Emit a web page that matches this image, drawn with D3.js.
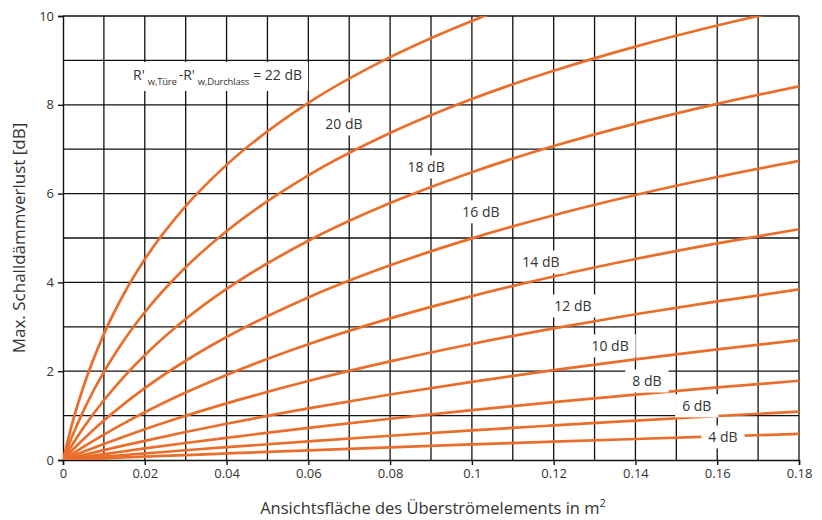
<!DOCTYPE html>
<html><head><meta charset="utf-8">
<script src="https://cdn.jsdelivr.net/npm/d3@7/dist/d3.min.js"></script>
<style>
body{margin:0;background:#fff;}
text{font-family:"Open Sans",sans-serif;fill:#333;}
</style>
</head><body>
<svg id="chart" width="822" height="520"></svg>
<script>
// Area of the transfer element (m²) at which values were read
const areas = [0, 0.0025, 0.005, 0.01, 0.015, 0.02, 0.03, 0.04, 0.06, 0.08, 0.10, 0.12, 0.14, 0.16, 0.18];
// Max. sound insulation loss [dB] per level difference R'w,Türe - R'w,Durchlass
const loss22 = [0, 0.904, 1.649, 2.835, 3.761, 4.520, 5.718, 6.647, 8.041, 9.073, 9.890, 10.563, null, null, null];
const loss20 = [0, 0.589, 1.107, 1.984, 2.709, 3.327, 4.341, 5.153, 6.410, 7.364, 8.129, 8.766, 9.311, 9.785, 10.203];
const loss18 = [0, 0.379, 0.727, 1.345, 1.884, 2.360, 3.174, 3.852, 4.937, 5.787, 6.483, 7.071, 7.577, 8.022, 8.417];
const loss16 = [0, 0.241, 0.468, 0.888, 1.269, 1.618, 2.235, 2.770, 3.661, 4.384, 4.992, 5.513, 5.969, 6.373, 6.736];
const loss14 = [0, 0.151, 0.297, 0.573, 0.831, 1.074, 1.518, 1.916, 2.606, 3.189, 3.692, 4.133, 4.526, 4.878, 5.197];
const loss12 = [0, 0.094, 0.185, 0.362, 0.530, 0.692, 0.995, 1.275, 1.779, 2.220, 2.613, 2.965, 3.283, 3.574, 3.841];
const loss10 = [0, 0.057, 0.113, 0.223, 0.329, 0.432, 0.630, 0.817, 1.162, 1.475, 1.761, 2.023, 2.265, 2.490, 2.699];
const loss8  = [0, 0.034, 0.067, 0.133, 0.197, 0.260, 0.383, 0.500, 0.723, 0.929, 1.123, 1.304, 1.474, 1.634, 1.785];
const loss6  = [0, 0.019, 0.038, 0.075, 0.112, 0.148, 0.219, 0.288, 0.420, 0.546, 0.666, 0.779, 0.888, 0.991, 1.090];
const loss4  = [0, 0.010, 0.019, 0.038, 0.057, 0.076, 0.112, 0.148, 0.218, 0.286, 0.350, 0.413, 0.473, 0.531, 0.587];

const seriesValues = [loss22, loss20, loss18, loss16, loss14, loss12, loss10, loss8, loss6, loss4];
const seriesNames = ["22 dB", "20 dB", "18 dB", "16 dB", "14 dB", "12 dB", "10 dB", "8 dB", "6 dB", "4 dB"];
// label anchors (data units) for the curve labels
const labelAreas = [null, 0.0687, 0.0888, 0.1022, 0.1169, 0.1247, 0.1338, 0.1428, 0.1550, 0.1614];
const labelLoss  = [null, 7.57, 6.60, 5.59, 4.46, 3.47, 2.57, 1.78, 1.22, 0.52];

const xTickValues = [0, 0.02, 0.04, 0.06, 0.08, 0.1, 0.12, 0.14, 0.16, 0.18];
const xTickLabels = ["0", "0.02", "0.04", "0.06", "0.08", "0.1", "0.12", "0.14", "0.16", "0.18"];
const yTickValues = [0, 2, 4, 6, 8, 10];
const xGridValues = d3.range(1, 19).map(i => i / 100);
const yGridValues = d3.range(1, 11);

const svg = d3.select("#chart");
const mLeft = 63, mRight = 799, mTop = 16, mBottom = 460;
const x = d3.scaleLinear().domain([0, 0.18]).range([mLeft, mRight]);
const y = d3.scaleLinear().domain([0, 10]).range([mBottom, mTop]);

svg.append("rect").attr("width", 822).attr("height", 520).attr("fill", "#fff");

// grid
const grid = svg.append("g").attr("stroke", "#111").attr("stroke-width", 1.3);
grid.selectAll("line.v").data(xGridValues).join("line").attr("class", "v")
  .attr("x1", d => x(d)).attr("x2", d => x(d)).attr("y1", mTop).attr("y2", mBottom);
grid.selectAll("line.h").data(yGridValues).join("line").attr("class", "h")
  .attr("y1", d => y(d)).attr("y2", d => y(d)).attr("x1", mLeft).attr("x2", mRight);

// axes
const xAxis = d3.axisBottom(x).tickValues(xTickValues).tickFormat((d, i) => xTickLabels[i]).tickSize(5).tickPadding(4);
const yAxis = d3.axisLeft(y).tickValues(yTickValues).tickFormat(d3.format("d")).tickSize(5).tickPadding(4);
const gx = svg.append("g").attr("transform", `translate(0,${mBottom})`).call(xAxis);
const gy = svg.append("g").attr("transform", `translate(${mLeft},0)`).call(yAxis);
[gx, gy].forEach(g => {
  g.select(".domain").attr("stroke", "#111").attr("stroke-width", 1.4);
  g.selectAll(".tick line").attr("stroke", "#111").attr("stroke-width", 1.4);
  g.selectAll(".tick text").attr("font-family", "Open Sans").attr("font-size", 13).attr("fill", "#333");
});

// curves
svg.append("clipPath").attr("id", "plotclip").append("rect")
  .attr("x", mLeft).attr("y", mTop).attr("width", mRight - mLeft).attr("height", mBottom - mTop);
const line = d3.line()
  .defined(d => d[1] !== null)
  .x(d => x(d[0])).y(d => y(d[1]))
  .curve(d3.curveMonotoneX);
const curves = svg.append("g").attr("clip-path", "url(#plotclip)");
seriesValues.forEach(vals => {
  curves.append("path")
    .datum(areas.map((a, i) => [a, vals[i]]))
    .attr("d", line)
    .attr("fill", "none")
    .attr("stroke", "#EA6E2B")
    .attr("stroke-width", 2.7)
    .attr("stroke-linecap", "round");
});

// curve labels
const labels = svg.append("g");
seriesNames.forEach((name, i) => {
  if (labelAreas[i] === null) return;
  const g = labels.append("g");
  const t = g.append("text")
    .attr("x", x(labelAreas[i])).attr("y", y(labelLoss[i]))
    .attr("text-anchor", "middle").attr("dominant-baseline", "central")
    .attr("font-size", 14).text(name);
  const bb = t.node().getBBox();
  g.insert("rect", "text").attr("x", bb.x - 7).attr("y", bb.y - 2)
    .attr("width", bb.width + 14).attr("height", bb.height + 4).attr("fill", "#fff");
});

// main label
const mg = svg.append("g");
const mt = mg.append("text").attr("x", 133).attr("y", 80).attr("font-size", 14);
mt.append("tspan").text("R'");
mt.append("tspan").attr("dx", 3).attr("dy", 5).attr("font-size", 9.5).attr("letter-spacing", -0.2).text("w,Türe");
mt.append("tspan").attr("dx", 2).attr("dy", -5).text("-R'");
mt.append("tspan").attr("dx", 3).attr("dy", 5).attr("font-size", 9.5).attr("letter-spacing", -0.2).text("w,Durchlass");
mt.append("tspan").attr("dx", 4).attr("dy", -5).text("= 22 dB");
const mbb = mt.node().getBBox();
mg.insert("rect", "text").attr("x", mbb.x - 10).attr("y", mbb.y - 3)
  .attr("width", mbb.width + 16).attr("height", mbb.height + 6).attr("fill", "#fff");

// axis titles
const xt = svg.append("text").attr("x", 433).attr("y", 514).attr("text-anchor", "middle").attr("font-size", 16.5);
xt.append("tspan").text("Ansichtsfläche des Überströmelements in m");
xt.append("tspan").attr("dy", -7).attr("font-size", 11).text("2");
svg.append("text").attr("transform", "translate(25,238) rotate(-90)")
  .attr("text-anchor", "middle").attr("font-size", 17).text("Max. Schalldämmverlust [dB]");
</script>
</body></html>
